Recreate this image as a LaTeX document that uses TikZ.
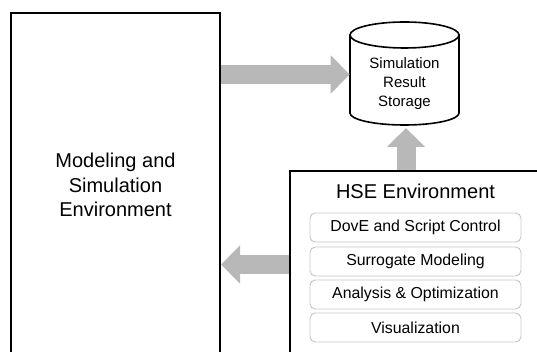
\documentclass[tikz,border=0pt]{standalone}
\usepackage{fontspec}
\setmainfont{Liberation Sans}
\usetikzlibrary{arrows.meta}
\tikzset{
  bigbox/.style={draw=black,line width=1.5pt,fill=white,inner sep=0pt,align=center,font=\fontsize{15}{18.4}\selectfont},
  subbox/.style={draw=black!22,line width=0.7pt,rounded corners=4pt,fill=white,minimum width=158.25pt,minimum height=21.75pt,inner sep=0pt,font=\fontsize{11.9}{15}\selectfont},
  storeline/.style={draw=black,line width=1.2pt,fill=white},
  storetext/.style={inner sep=0pt,minimum width=81.75pt,align=center,font=\fontsize{11.25}{14.3}\selectfont},
  flow/.style={draw=black!28,line width=14.25pt,-{Triangle[width=27.75pt,length=14.25pt]}},
}
\begin{document}
\begin{tikzpicture}[x=0.75pt,y=-0.75pt]
\useasboundingbox (0,0) rectangle (537,352);
\clip (0,0) rectangle (537,352);
\node[bigbox,minimum width=156.75pt,minimum height=258pt] (model) at (115.5,185) {Modeling and\\Simulation\\Environment};
\path[storeline] (350,35) -- (350,113) .. controls (350,119.6) and (374,125) .. (404.5,125) .. controls (435,125) and (459,119.6) .. (459,113) -- (459,35) -- cycle;
\path[storeline] (404.5,35) ellipse [x radius=54.5,y radius=13];
\node[storetext] (result) at (404.5,84) {Simulation\\Result\\Storage};
\node[bigbox,minimum width=200.25pt,minimum height=147pt] (hse) at (423.5,269) {};
\node[font=\fontsize{15}{18}\selectfont] (title) at (415.5,191) {HSE Environment};
\node[subbox] (dove) at (415.5,227.5) {DovE and Script Control};
\node[subbox] (surr) at (415.5,261.5) {Surrogate Modeling};
\node[subbox] (anal) at (415.5,294.5) {Analysis \& Optimization};
\node[subbox] (visu) at (415.5,327.5) {Visualization};
\coordinate (rowa) at (0,74.5);
\coordinate (rowb) at (0,264.5);
\coordinate (cola) at (406,0);
\coordinate (tipa) at (406,128);
\draw[flow] (model.east|-rowa) -- (result.west|-rowa);
\draw[flow] (hse.north-|cola) -- (tipa);
\draw[flow] (hse.west|-rowb) -- (model.east|-rowb);
\end{tikzpicture}
\end{document}
